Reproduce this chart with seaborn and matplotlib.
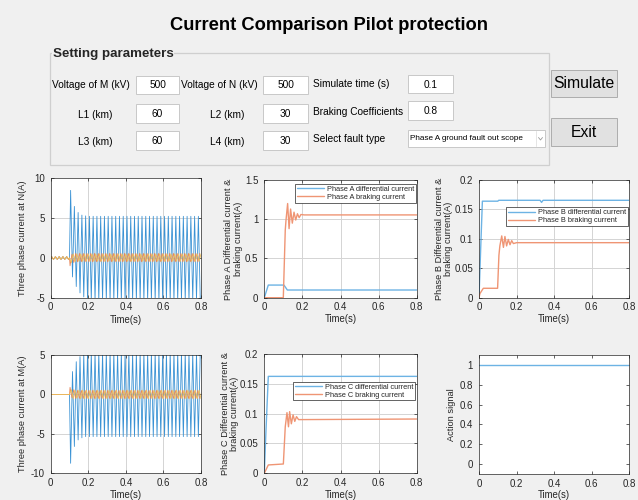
import numpy as np
import pandas as pd
import matplotlib
matplotlib.use("Agg")
import matplotlib.pyplot as plt
from matplotlib.patches import Rectangle
from matplotlib.lines import Line2D
import seaborn as sns

W, H = 638, 500
BG = "#f0f0f0"
# matlab default colours, a bit washed out like in the screenshot
BLUE, ORANGE, YELLOW = "#3a92d4", "#e8875a", "#efbf5a"
BLUE_L, ORANGE_L = "#6db3e4", "#ef9574"

sns.set_theme(style="white")
plt.rcParams["font.family"] = ["Liberation Sans", "DejaVu Sans"]

# %% data

title = "Current Comparison Pilot protection"
params_left = [("Voltage of M (kV)", "500"), ("L1 (km)", "60"), ("L3 (km)", "60")]
params_mid = [("Voltage of N (kV)", "500"), ("L2 (km)", "30"), ("L4 (km)", "30")]
params_right = [("Simulate time (s)", "0.1"), ("Braking Coefficients", "0.8")]
fault_type = "Phase A ground fault out scope"

half_cycle = 0.01  # 50 Hz -> one peak every 10 ms

# pre-fault part (0 - 0.1 s)
pre_t = [0.0, 0.005, 0.015, 0.025, 0.035, 0.045, 0.055, 0.065, 0.075, 0.085, 0.095, 0.1]
n_pre = [0.0, 0.15, -0.2, 0.15, -0.2, 0.15, -0.2, 0.15, -0.2, 0.15, -0.2, 0.0]
m_pre = [0.0] * 12

# peaks after the fault (alternating), amplitude flat once settled
na_start, na_peaks = 0.106, [8.45, -2.4, 6.44, -3.6, 5.68, -4.4, 5.35, -4.9, 5.25, -5.1] + [5.2, -5.3] * 30
nb_start, nb_peaks = 0.103, [-1.0, 0.45, -0.6, 0.55, -0.5, 0.55] + [-0.5, 0.55] * 32
nc_start, nc_peaks = 0.110, [-0.6, 0.5, -0.5, 0.5] + [-0.45, 0.5] * 33

ma_start, ma_peaks = 0.106, [-8.73, 2.9, -6.6, 4.15, -5.77, 4.8, -5.5, 5.1] + [-5.35, 5.3] * 31
mb_start, mb_peaks = 0.103, [0.9, -0.4, 0.6, -0.5] + [0.5, -0.5] * 33
mc_start, mc_peaks = 0.110, [0.6, -0.55, 0.55, -0.5] + [0.55, -0.55] * 33

# differential / braking currents
a_diff_t = [0, 0.021, 0.103, 0.121, 0.8]
a_diff = [0, 0.161, 0.161, 0.098, 0.098]
a_brk_t = [0, 0.0998, 0.110, 0.114, 0.1225, 0.130, 0.138, 0.147, 0.156, 0.165, 0.174, 0.183, 0.192, 0.21, 0.8]
a_brk = [0, 0, 0.86, 0.99, 1.20, 0.88, 1.13, 0.95, 1.09, 0.99, 1.07, 1.02, 1.06, 1.055, 1.055]

b_diff_t = [0, 0.009, 0.018, 0.1, 0.105, 0.325, 0.333, 0.341, 0.8]
b_diff = [0, 0.084, 0.164, 0.164, 0.1655, 0.1655, 0.162, 0.1655, 0.1655]
b_brk_t = [0, 0.005, 0.023, 0.099, 0.106, 0.111, 0.121, 0.130, 0.138, 0.147, 0.156, 0.165, 0.174, 0.183, 0.2, 0.8]
b_brk = [0, 0.007, 0.016, 0.016, 0.072, 0.088, 0.105, 0.0855, 0.104, 0.088, 0.099, 0.090, 0.097, 0.092, 0.0935, 0.0935]

c_diff_t = [0, 0.009, 0.021, 0.8]
c_diff = [0, 0.073, 0.1625, 0.1625]
c_brk_t = [0, 0.021, 0.1, 0.11, 0.119, 0.127, 0.133, 0.142, 0.151, 0.16, 0.169, 0.18, 0.8]
c_brk = [0, 0.014, 0.0156, 0.078, 0.1017, 0.078, 0.1034, 0.083, 0.098, 0.087, 0.095, 0.09, 0.091]

action_t = [0, 0.8]
action = [1, 1]

x_ticks = [0, 0.2, 0.4, 0.6, 0.8]
x_labels = ["0", "0.2", "0.4", "0.6", "0.8"]


def wave(start, peaks, pre_v):
    t = np.concatenate([pre_t, start + half_cycle * np.arange(len(peaks))])
    v = np.concatenate([pre_v, peaks])
    return pd.DataFrame({"t": t, "v": v})


# %% figure + gui

fig = plt.figure(figsize=(W / 100, H / 100), dpi=100, facecolor=BG)


def px_rect(x1, y1, x2, y2, **kw):
    fig.patches.append(Rectangle((x1 / W, 1 - y2 / H), (x2 - x1) / W, (y2 - y1) / H,
                                 transform=fig.transFigure, **kw))


def px_text(x, y, s, **kw):
    fig.text(x / W, 1 - y / H, s, **kw)


px_text(329, 25.7, title, ha="center", va="center", fontsize=13.2, fontweight="bold", color="#000000")

# setting panel
px_rect(50, 52.7, 549, 165, facecolor="none", edgecolor="#cfcfcf", lw=0.9)
px_text(53, 54, "Setting parameters", ha="left", va="center", fontsize=9.6, fontweight="bold",
        bbox=dict(facecolor=BG, edgecolor="none", pad=0.5))

txt = dict(va="center", fontsize=7.3, color="#000000")
box = dict(facecolor="white", edgecolor="#c8c8c8", lw=0.7)

left_y = [85, 115, 141.7]
left_box = [(75.7, 94.3), (104.3, 123.3), (130.7, 150)]
for i, (lab, val) in enumerate(params_left):
    if i == 0:
        px_text(51.5, left_y[i], lab, ha="left", **txt)
    else:
        px_text(95.4, left_y[i], lab, ha="center", **txt)
    y1, y2 = left_box[i]
    px_rect(135.7, y1, 179.3, y2, **box)
    px_text(157.5, (y1 + y2) / 2 + 0.5, val, ha="center", **txt)

for i, (lab, val) in enumerate(params_mid):
    if i == 0:
        px_text(258, left_y[i], lab, ha="right", **txt)
    else:
        px_text(227.6, left_y[i], lab, ha="center", **txt)
    y1, y2 = left_box[i]
    px_rect(263.3, y1, 307.7, y2, **box)
    px_text(285.5, (y1 + y2) / 2 + 0.5, val, ha="center", **txt)

right_y = [84.3, 112.3]
right_box = [(75, 93.3), (101, 120)]
for i, (lab, val) in enumerate(params_right):
    px_text(312.7, right_y[i], lab, ha="left", **txt)
    y1, y2 = right_box[i]
    px_rect(408.3, y1, 452.7, y2, **box)
    px_text(430.5, (y1 + y2) / 2 + 0.5, val, ha="center", **txt)

px_text(312.7, 139, "Select fault type", ha="left", **txt)
px_rect(407.7, 130, 545, 147.3, **box)
px_text(410, 138.9, fault_type, ha="left", va="center", fontsize=5.9, color="#000000")
fig.add_artist(Line2D([536 / W, 536 / W], [1 - 131 / H, 1 - 146.5 / H], color="#e0e0e0", lw=0.6))
fig.add_artist(Line2D([538.5 / W, 540.5 / W, 542.5 / W], [1 - 137.5 / H, 1 - 140 / H, 1 - 137.5 / H],
                      color="#9a9a9a", lw=0.6))

# buttons
for (y1, y2, lab) in [(70, 96.7, "Simulate"), (118.3, 145.7, "Exit")]:
    px_rect(550.7, y1, 617.3, y2, facecolor="#e1e1e1", edgecolor="#adadad", lw=0.7)
    px_text(584, (y1 + y2) / 2 + 0.5, lab, ha="center", va="center", fontsize=11.3, color="#000000")


# %% axes

def make_axes(l, t, r, b):
    ax = fig.add_axes([l / W, 1 - b / H, (r - l) / W, (b - t) / H])
    ax.set_facecolor("white")
    return ax


def style(ax, ylim, yticks, ylabels, ylabel, ylab_x, xlab_y, grid=True):
    ax.set_xlim(0, 0.8)
    ax.set_ylim(*ylim)
    ax.set_xticks(x_ticks)
    ax.set_xticklabels(x_labels)
    ax.set_yticks(yticks)
    ax.set_yticklabels(ylabels)
    ax.tick_params(axis="both", direction="in", length=2.5, width=0.5, colors="#262626",
                   labelsize=7, top=True, right=True, bottom=True, left=True)
    ax.tick_params(axis="x", pad=3.3)
    ax.tick_params(axis="y", pad=4.3)
    for sp in ax.spines.values():
        sp.set_color("#262626")
        sp.set_linewidth(0.5)
    if grid:
        # matlab style light grid, drawn as plain lines under the data
        for xv in x_ticks[1:-1]:
            ax.axvline(xv, color="#d4d4d4", lw=0.7, zorder=0.5)
        for yv in yticks[1:-1]:
            ax.axhline(yv, color="#d4d4d4", lw=0.7, zorder=0.5)
    ax.grid(False)
    ax.set_xlabel("Time(s)", fontsize=6.9, color="#262626")
    ax.set_ylabel(ylabel, fontsize=6.7, color="#262626", linespacing=1.05)
    ax.xaxis.label.set_va("center")
    ax.yaxis.label.set_va("center")
    ax.xaxis.set_label_coords(0.5, xlab_y)
    ax.yaxis.set_label_coords(ylab_x, 0.5)


def legend(ax, x, y):
    leg = ax.legend(loc="upper right", bbox_to_anchor=(x, y), fontsize=5.3, frameon=True, fancybox=False,
                    edgecolor="#262626", framealpha=1, borderaxespad=0, handlelength=3.7,
                    borderpad=0.25, labelspacing=0.1, handletextpad=0.4)
    leg.get_frame().set_linewidth(0.5)


lw_wave = 0.6
lw_line = 1.0

# three phase current at N
ax1 = make_axes(50.7, 178, 201, 297.7)
for start, peaks, col in [(na_start, na_peaks, BLUE), (nb_start, nb_peaks, ORANGE), (nc_start, nc_peaks, YELLOW)]:
    d = wave(start, peaks, n_pre)
    sns.lineplot(data=d, x="t", y="v", ax=ax1, color=col, lw=lw_wave, estimator=None, sort=False)
style(ax1, (-5, 10), [-5, 0, 5, 10], ["-5", "0", "5", "10"], "Three phase current at N(A)", -0.186, -0.186)

# phase A
ax2 = make_axes(264.3, 180, 416.7, 297.7)
sns.lineplot(x=a_diff_t, y=a_diff, ax=ax2, color=BLUE_L, lw=lw_line, estimator=None, sort=False,
             label="Phase A differential current")
sns.lineplot(x=a_brk_t, y=a_brk, ax=ax2, color=ORANGE_L, lw=lw_line, estimator=None, sort=False,
             label="Phase A braking current")
style(ax2, (0, 1.5), [0, 0.5, 1, 1.5], ["0", "0.5", "1", "1.5"],
      "Phase A Differential current &\nbraking current(A)", -0.202, -0.184)
legend(ax2, 0.995, 0.966)

# phase B
ax3 = make_axes(479, 180, 629.3, 297.7)
sns.lineplot(x=b_diff_t, y=b_diff, ax=ax3, color=BLUE_L, lw=lw_line, estimator=None, sort=False,
             label="Phase B differential current")
sns.lineplot(x=b_brk_t, y=b_brk, ax=ax3, color=ORANGE_L, lw=lw_line, estimator=None, sort=False,
             label="Phase B braking current")
style(ax3, (0, 0.2), [0, 0.05, 0.1, 0.15, 0.2], ["0", "0.05", "0.1", "0.15", "0.2"],
      "Phase B Differential current &\nbraking current(A)", -0.233, -0.184)
legend(ax3, 0.993, 0.768)

# three phase current at M
ax4 = make_axes(50.7, 355, 201, 473.3)
for start, peaks, col in [(ma_start, ma_peaks, BLUE), (mb_start, mb_peaks, ORANGE), (mc_start, mc_peaks, YELLOW)]:
    d = wave(start, peaks, m_pre)
    sns.lineplot(data=d, x="t", y="v", ax=ax4, color=col, lw=lw_wave, estimator=None, sort=False)
style(ax4, (-10, 5), [-10, -5, 0, 5], ["-10", "-5", "0", "5"], "Three phase current at M(A)", -0.186, -0.183)

# phase C
ax5 = make_axes(264.3, 354, 416.7, 473.3)
sns.lineplot(x=c_diff_t, y=c_diff, ax=ax5, color=BLUE_L, lw=lw_line, estimator=None, sort=False,
             label="Phase C differential current")
sns.lineplot(x=c_brk_t, y=c_brk, ax=ax5, color=ORANGE_L, lw=lw_line, estimator=None, sort=False,
             label="Phase C braking current")
style(ax5, (0, 0.2), [0, 0.05, 0.1, 0.15, 0.2], ["0", "0.05", "0.1", "0.15", "0.2"],
      "Phase C Differential current &\nbraking current(A)", -0.225, -0.182)
legend(ax5, 0.989, 0.768)

# action signal
ax6 = make_axes(479, 354.7, 629.3, 474.3)
sns.lineplot(x=action_t, y=action, ax=ax6, color=BLUE_L, lw=lw_line, estimator=None, sort=False)
style(ax6, (-0.1, 1.1), [0, 0.2, 0.4, 0.6, 0.8, 1], ["0", "0.2", "0.4", "0.6", "0.8", "1"],
      "Action signal", -0.182, -0.173, grid=False)

fig.savefig("out.png", dpi=100, facecolor=BG)
